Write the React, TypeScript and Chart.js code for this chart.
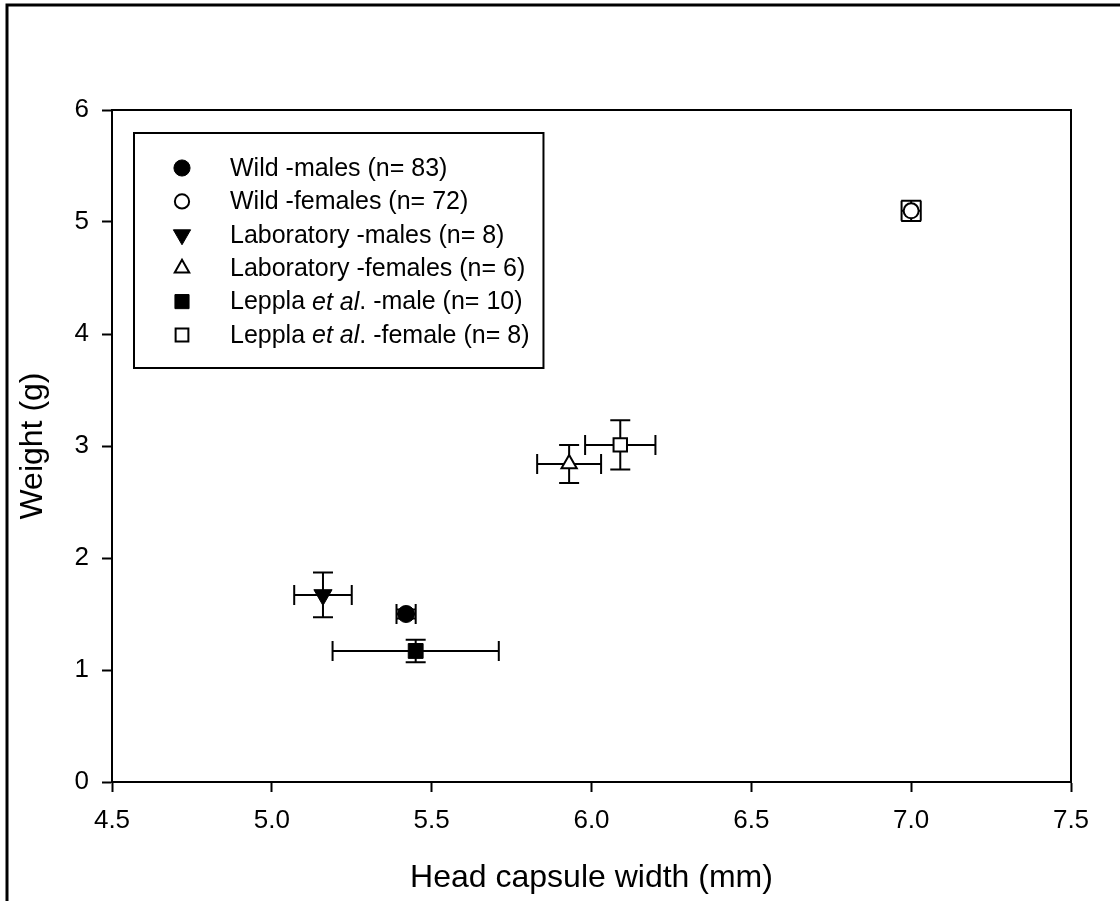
import React, { useEffect, useRef } from 'react';
import { Chart, registerables } from 'chart.js';

Chart.register(...registerables);

// ---- data ----
const seriesNames = [
  'Wild -males (n= 83)',
  'Wild -females (n= 72)',
  'Laboratory -males (n= 8)',
  'Laboratory -females (n= 6)',
  'Leppla et al. -male (n= 10)',
  'Leppla et al. -female (n= 8)',
];
// legend text split into [text, italic] segments
const legendSegments: [string, boolean][][] = [
  [['Wild -males (n= 83)', false]],
  [['Wild -females (n= 72)', false]],
  [['Laboratory -males (n= 8)', false]],
  [['Laboratory -females (n= 6)', false]],
  [['Leppla ', false], ['et al', true], ['. -male (n= 10)', false]],
  [['Leppla ', false], ['et al', true], ['. -female (n= 8)', false]],
];
const xMeans = [5.42, 7.0, 5.16, 5.93, 5.45, 6.09];
const yMeans = [1.5, 5.1, 1.67, 2.84, 1.17, 3.01];
const xErrs = [0.03, 0.03, 0.09, 0.1, 0.26, 0.11];
const yErrs = [0.04, 0.09, 0.2, 0.17, 0.1, 0.22];
const xTickValues = [4.5, 5.0, 5.5, 6.0, 6.5, 7.0, 7.5];
const yTickValues = [0, 1, 2, 3, 4, 5, 6];
const xTitle = 'Head capsule width (mm)';
const yTitle = 'Weight (g)';

// ---- styles ----
const FONT = '"Liberation Sans", Arial, Helvetica, sans-serif';
const LEGEND_FONT_SIZE = 25;
type MarkerStyle = { shape: 'circle' | 'triangle' | 'rect'; rotation: number; filled: boolean; radius: number };
const markerStyles: MarkerStyle[] = [
  { shape: 'circle', rotation: 0, filled: true, radius: 8.5 },
  { shape: 'circle', rotation: 0, filled: false, radius: 7.5 },
  { shape: 'triangle', rotation: 180, filled: true, radius: 10.5 },
  { shape: 'triangle', rotation: 0, filled: false, radius: 8.8 },
  { shape: 'rect', rotation: 0, filled: true, radius: 10.5 },
  { shape: 'rect', rotation: 0, filled: false, radius: 9.5 },
];

function drawMarker(ctx: CanvasRenderingContext2D, m: MarkerStyle, x: number, y: number) {
  ctx.save();
  ctx.beginPath();
  const r = m.radius;
  if (m.shape === 'circle') {
    ctx.arc(x, y, r, 0, Math.PI * 2);
  } else if (m.shape === 'triangle') {
    let rad = (m.rotation * Math.PI) / 180;
    ctx.moveTo(x + Math.sin(rad) * r, y - Math.cos(rad) * r);
    rad += (2 * Math.PI) / 3;
    ctx.lineTo(x + Math.sin(rad) * r, y - Math.cos(rad) * r);
    rad += (2 * Math.PI) / 3;
    ctx.lineTo(x + Math.sin(rad) * r, y - Math.cos(rad) * r);
    ctx.closePath();
  } else {
    const s = Math.SQRT1_2 * r;
    ctx.rect(x - s, y - s, 2 * s, 2 * s);
  }
  ctx.fillStyle = m.filled ? '#000' : '#fff';
  ctx.fill();
  ctx.lineWidth = m.filled ? 1 : 2;
  ctx.strokeStyle = '#000';
  ctx.stroke();
  ctx.restore();
}

const errorBarPlugin = {
  id: 'errorBars',
  beforeDatasetsDraw(chart: any) {
    const { ctx, scales } = chart;
    const xs = scales.x;
    const ys = scales.y;
    const cap = 10;
    ctx.save();
    ctx.strokeStyle = '#000';
    ctx.lineWidth = 2;
    for (let i = 0; i < xMeans.length; i++) {
      const px = xs.getPixelForValue(xMeans[i]);
      const py = ys.getPixelForValue(yMeans[i]);
      const xl = xs.getPixelForValue(xMeans[i] - xErrs[i]);
      const xr = xs.getPixelForValue(xMeans[i] + xErrs[i]);
      const yt = ys.getPixelForValue(yMeans[i] + yErrs[i]);
      const yb = ys.getPixelForValue(yMeans[i] - yErrs[i]);
      ctx.beginPath();
      ctx.moveTo(xl, py); ctx.lineTo(xr, py);
      ctx.moveTo(xl, py - cap); ctx.lineTo(xl, py + cap);
      ctx.moveTo(xr, py - cap); ctx.lineTo(xr, py + cap);
      ctx.moveTo(px, yt); ctx.lineTo(px, yb);
      ctx.moveTo(px - cap, yt); ctx.lineTo(px + cap, yt);
      ctx.moveTo(px - cap, yb); ctx.lineTo(px + cap, yb);
      ctx.stroke();
    }
    ctx.restore();
  },
};

const decorPlugin = {
  id: 'decor',
  afterDraw(chart: any) {
    const { ctx, chartArea, width, height } = chart;
    ctx.save();
    // outer frame (left and top)
    ctx.strokeStyle = '#000';
    ctx.lineWidth = 3;
    ctx.beginPath();
    ctx.moveTo(7, height + 5);
    ctx.lineTo(7, 5);
    ctx.lineTo(width + 5, 5);
    ctx.stroke();
    // plot frame top/right
    ctx.lineWidth = 2;
    ctx.beginPath();
    ctx.moveTo(chartArea.left, chartArea.top);
    ctx.lineTo(chartArea.right, chartArea.top);
    ctx.lineTo(chartArea.right, chartArea.bottom);
    ctx.stroke();
    // axis titles
    ctx.fillStyle = '#000';
    ctx.font = `32px ${FONT}`;
    ctx.textAlign = 'center';
    ctx.textBaseline = 'alphabetic';
    ctx.fillText(xTitle, (chartArea.left + chartArea.right) / 2, 887);
    ctx.save();
    ctx.translate(42, (chartArea.top + chartArea.bottom) / 2);
    ctx.rotate(-Math.PI / 2);
    ctx.fillText(yTitle, 0, 0);
    ctx.restore();
    // legend: measure text to size box
    let maxW = 0;
    for (const segs of legendSegments) {
      let w = 0;
      for (const [t, it] of segs) {
        ctx.font = `${it ? 'italic ' : ''}${LEGEND_FONT_SIZE}px ${FONT}`;
        w += ctx.measureText(t).width;
      }
      maxW = Math.max(maxW, w);
    }
    const textX = 230;
    const bx = 134, by = 133, bh = 235;
    const bw = textX + maxW + 14 - bx;
    ctx.fillStyle = '#fff';
    ctx.fillRect(bx, by, bw, bh);
    ctx.lineWidth = 2;
    ctx.strokeStyle = '#000';
    ctx.strokeRect(bx, by, bw, bh);
    const rowY0 = 168;
    const rowStep = 33.4;
    for (let i = 0; i < legendSegments.length; i++) {
      const y = rowY0 + i * rowStep;
      const m = { ...markerStyles[i], radius: markerStyles[i].radius * 0.95 };
      drawMarker(ctx, m, 182, y);
      let tx = textX;
      ctx.textAlign = 'left';
      ctx.textBaseline = 'middle';
      ctx.fillStyle = '#000';
      for (const [t, it] of legendSegments[i]) {
        ctx.font = `${it ? 'italic ' : ''}${LEGEND_FONT_SIZE}px ${FONT}`;
        ctx.fillText(t, tx, y + 1);
        tx += ctx.measureText(t).width;
      }
    }
    ctx.restore();
  },
};

export default function App() {
  const canvasRef = useRef<HTMLCanvasElement | null>(null);

  useEffect(() => {
    const canvas = canvasRef.current;
    if (!canvas) return;
    const datasets = seriesNames.map((name, i) => ({
      label: name,
      data: [{ x: xMeans[i], y: yMeans[i] }],
      pointStyle: markerStyles[i].shape,
      rotation: markerStyles[i].rotation,
      pointRadius: markerStyles[i].radius,
      pointHoverRadius: markerStyles[i].radius,
      backgroundColor: markerStyles[i].filled ? '#000' : '#fff',
      borderColor: '#000',
      borderWidth: markerStyles[i].filled ? 1 : 2,
      showLine: false,
    }));
    const tickFont = { family: FONT, size: 26 };
    const chart = new Chart(canvas, {
      type: 'scatter',
      data: { datasets } as any,
      options: {
        responsive: false,
        animation: false,
        devicePixelRatio: 1,
        layout: { padding: { left: 0, top: 110, right: 49, bottom: 0 } },
        plugins: { legend: { display: false }, tooltip: { enabled: false } },
        scales: {
          x: {
            type: 'linear',
            min: 4.5,
            max: 7.5,
            afterBuildTicks: (s: any) => { s.ticks = xTickValues.map((v) => ({ value: v })); },
            ticks: { font: tickFont, color: '#000', padding: 13, maxRotation: 0, callback: (v: any) => Number(v).toFixed(1) },
            grid: { drawOnChartArea: false, drawTicks: true, tickLength: 10, tickWidth: 2, tickColor: '#000' },
            border: { display: true, color: '#000', width: 2 },
            afterFit: (s: any) => { s.height = 119; },
          },
          y: {
            type: 'linear',
            min: 0,
            max: 6,
            afterBuildTicks: (s: any) => { s.ticks = yTickValues.map((v) => ({ value: v })); },
            ticks: { font: tickFont, color: '#000', padding: 13, callback: (v: any) => String(v) },
            grid: { drawOnChartArea: false, drawTicks: true, tickLength: 10, tickWidth: 2, tickColor: '#000' },
            border: { display: true, color: '#000', width: 2 },
            afterFit: (s: any) => { s.width = 112; },
          },
        },
      } as any,
      plugins: [errorBarPlugin, decorPlugin],
    });
    return () => chart.destroy();
  }, []);

  return (
    <div style={{ position: 'fixed', left: 0, top: 0, width: 1120, height: 901, background: '#fff' }}>
      <canvas ref={canvasRef} width={1120} height={901} style={{ width: 1120, height: 901, display: 'block' }} />
    </div>
  );
}
